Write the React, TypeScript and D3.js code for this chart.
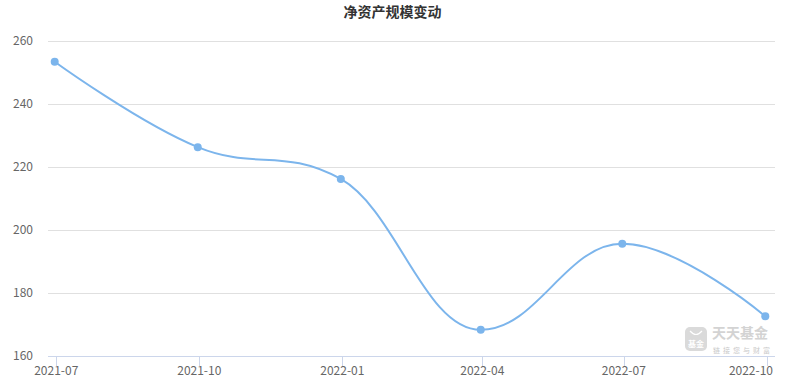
import React, { useEffect, useRef } from "react";
import * as d3 from "d3";

const chartTitle = "净资产规模变动";
const reportDates = ["2021-06-30", "2021-09-30", "2021-12-31", "2022-03-31", "2022-06-30", "2022-09-30"];
const netAssets = [253.4, 226.3, 216.2, 168.3, 195.6, 172.6];
const xTickDates = ["2021-07-01", "2021-10-01", "2022-01-01", "2022-04-01", "2022-07-01", "2022-10-01"];
const yTicks = [160, 180, 200, 220, 240, 260];
const watermarkName = "天天基金";
const watermarkSlogan = "链接您与财富";

const W = 789;
const H = 387;
const FONT = '"Noto Sans CJK SC", "Noto Sans", sans-serif';

function splinePath(pts: [number, number][]) {
  const p = d3.path();
  const sm = 1.5;
  const den = sm + 1;
  let prevRight: [number, number] | null = null;
  pts.forEach((pt, i) => {
    const [x, y] = pt;
    if (i === 0) {
      p.moveTo(x, y);
      prevRight = null;
      return;
    }
    const last = pts[i - 1];
    const next = pts[i + 1];
    let lcx = x;
    let lcy = y;
    let rc: [number, number] | null = null;
    if (next) {
      lcx = (sm * x + last[0]) / den;
      lcy = (sm * y + last[1]) / den;
      const rcx = (sm * x + next[0]) / den;
      let rcy = (sm * y + next[1]) / den;
      let corr = 0;
      if (rcx !== lcx) corr = ((rcy - lcy) * (rcx - x)) / (rcx - lcx) + y - rcy;
      lcy += corr;
      rcy += corr;
      if (lcy > last[1] && lcy > y) {
        lcy = Math.max(last[1], y);
        rcy = 2 * y - lcy;
      } else if (lcy < last[1] && lcy < y) {
        lcy = Math.min(last[1], y);
        rcy = 2 * y - lcy;
      }
      if (rcy > next[1] && rcy > y) {
        rcy = Math.max(next[1], y);
        lcy = 2 * y - rcy;
      } else if (rcy < next[1] && rcy < y) {
        rcy = Math.min(next[1], y);
        lcy = 2 * y - rcy;
      }
      rc = [rcx, rcy];
    }
    const c1 = prevRight ?? last;
    p.bezierCurveTo(c1[0], c1[1], lcx, lcy, x, y);
    prevRight = rc;
  });
  return p.toString();
}

export default function App() {
  const ref = useRef<SVGSVGElement | null>(null);

  useEffect(() => {
    const svg = d3.select(ref.current);
    svg.selectAll("*").remove();

    const plotLeft = 48;
    const plotRight = 775;
    const plotTop = 41;
    const plotBottom = 356;
    const parse = d3.timeParse("%Y-%m-%d");
    const dates = reportDates.map((d) => parse(d) as Date);
    const tickDates = xTickDates.map((d) => parse(d) as Date);

    const x = d3.scaleTime().domain([dates[0], dates[dates.length - 1]]).range([54.7, 765.3]);
    const y = d3.scaleLinear().domain([160, 260]).range([plotBottom, plotTop]);

    // title
    svg
      .append("text")
      .attr("x", W / 2 - 2)
      .attr("y", 17)
      .attr("text-anchor", "middle")
      .attr("font-family", FONT)
      .attr("font-size", 14)
      .attr("font-weight", "bold")
      .attr("fill", "#333333")
      .text(chartTitle);

    // gridlines
    svg
      .append("g")
      .selectAll("line")
      .data(yTicks.filter((t) => t !== 160))
      .join("line")
      .attr("x1", plotLeft)
      .attr("x2", plotRight)
      .attr("y1", (d) => Math.round(y(d)) + 0.5)
      .attr("y2", (d) => Math.round(y(d)) + 0.5)
      .attr("stroke", "#e0e0e0")
      .attr("stroke-width", 1);

    // y labels
    svg
      .append("g")
      .selectAll("text")
      .data(yTicks)
      .join("text")
      .attr("x", 33)
      .attr("y", (d) => y(d))
      .attr("dy", "0.35em")
      .attr("text-anchor", "end")
      .attr("font-family", FONT)
      .attr("font-size", 12)
      .attr("fill", "#666666")
      .text((d) => String(d));

    // watermark
    const wm = svg.append("g").attr("opacity", 0.9);
    wm.append("rect")
      .attr("x", 685)
      .attr("y", 327)
      .attr("width", 22)
      .attr("height", 24)
      .attr("rx", 5)
      .attr("fill", "#d6d6d6");
    wm.append("text")
      .attr("x", 696)
      .attr("y", 347)
      .attr("text-anchor", "middle")
      .attr("font-family", FONT)
      .attr("font-size", 8)
      .attr("font-weight", "bold")
      .attr("fill", "#ffffff")
      .text("基金");
    wm.append("path")
      .attr("d", "M690,331 Q696,338 702,331")
      .attr("stroke", "#ffffff")
      .attr("stroke-width", 1.2)
      .attr("fill", "none");
    wm.append("text")
      .attr("x", 712)
      .attr("y", 338)
      .attr("font-family", FONT)
      .attr("font-size", 14)
      .attr("font-weight", "bold")
      .attr("fill", "#cfcfcf")
      .text(watermarkName);
    wm.append("text")
      .attr("x", 713)
      .attr("y", 353)
      .attr("font-family", FONT)
      .attr("font-size", 7)
      .attr("letter-spacing", 3)
      .attr("fill", "#c4c4c4")
      .text(watermarkSlogan);

    // x axis line
    svg
      .append("line")
      .attr("x1", plotLeft)
      .attr("x2", plotRight)
      .attr("y1", plotBottom + 0.5)
      .attr("y2", plotBottom + 0.5)
      .attr("stroke", "#ccd6eb")
      .attr("stroke-width", 1);

    // ticks
    svg
      .append("g")
      .selectAll("line")
      .data(tickDates)
      .join("line")
      .attr("x1", (d) => Math.round(x(d)) + 0.5)
      .attr("x2", (d) => Math.round(x(d)) + 0.5)
      .attr("y1", plotBottom)
      .attr("y2", plotBottom + 10)
      .attr("stroke", "#ccd6eb")
      .attr("stroke-width", 1);

    // x labels with right justification
    const fmt = d3.timeFormat("%Y-%m");
    const labels = svg
      .append("g")
      .selectAll("text")
      .data(tickDates)
      .join("text")
      .attr("x", (d) => x(d))
      .attr("y", 375)
      .attr("text-anchor", "middle")
      .attr("font-family", FONT)
      .attr("font-size", 12)
      .attr("fill", "#666666")
      .text((d) => fmt(d));
    labels.each(function (d) {
      const el = this as SVGTextElement;
      const w = el.getComputedTextLength();
      const cx = x(d);
      if (cx + w / 2 > 773) {
        d3.select(el).attr("text-anchor", "end").attr("x", 773);
      }
    });

    // line
    const pts: [number, number][] = dates.map((d, i) => [x(d), y(netAssets[i])]);
    svg
      .append("path")
      .attr("d", splinePath(pts))
      .attr("fill", "none")
      .attr("stroke", "#7cb5ec")
      .attr("stroke-width", 2)
      .attr("stroke-linecap", "round")
      .attr("stroke-linejoin", "round");

    svg
      .append("g")
      .selectAll("circle")
      .data(pts)
      .join("circle")
      .attr("cx", (d) => d[0])
      .attr("cy", (d) => d[1])
      .attr("r", 4)
      .attr("fill", "#7cb5ec");
  }, []);

  return (
    <svg
      ref={ref}
      width={W}
      height={H}
      style={{ position: "absolute", left: 0, top: 0, background: "#ffffff" }}
    />
  );
}
